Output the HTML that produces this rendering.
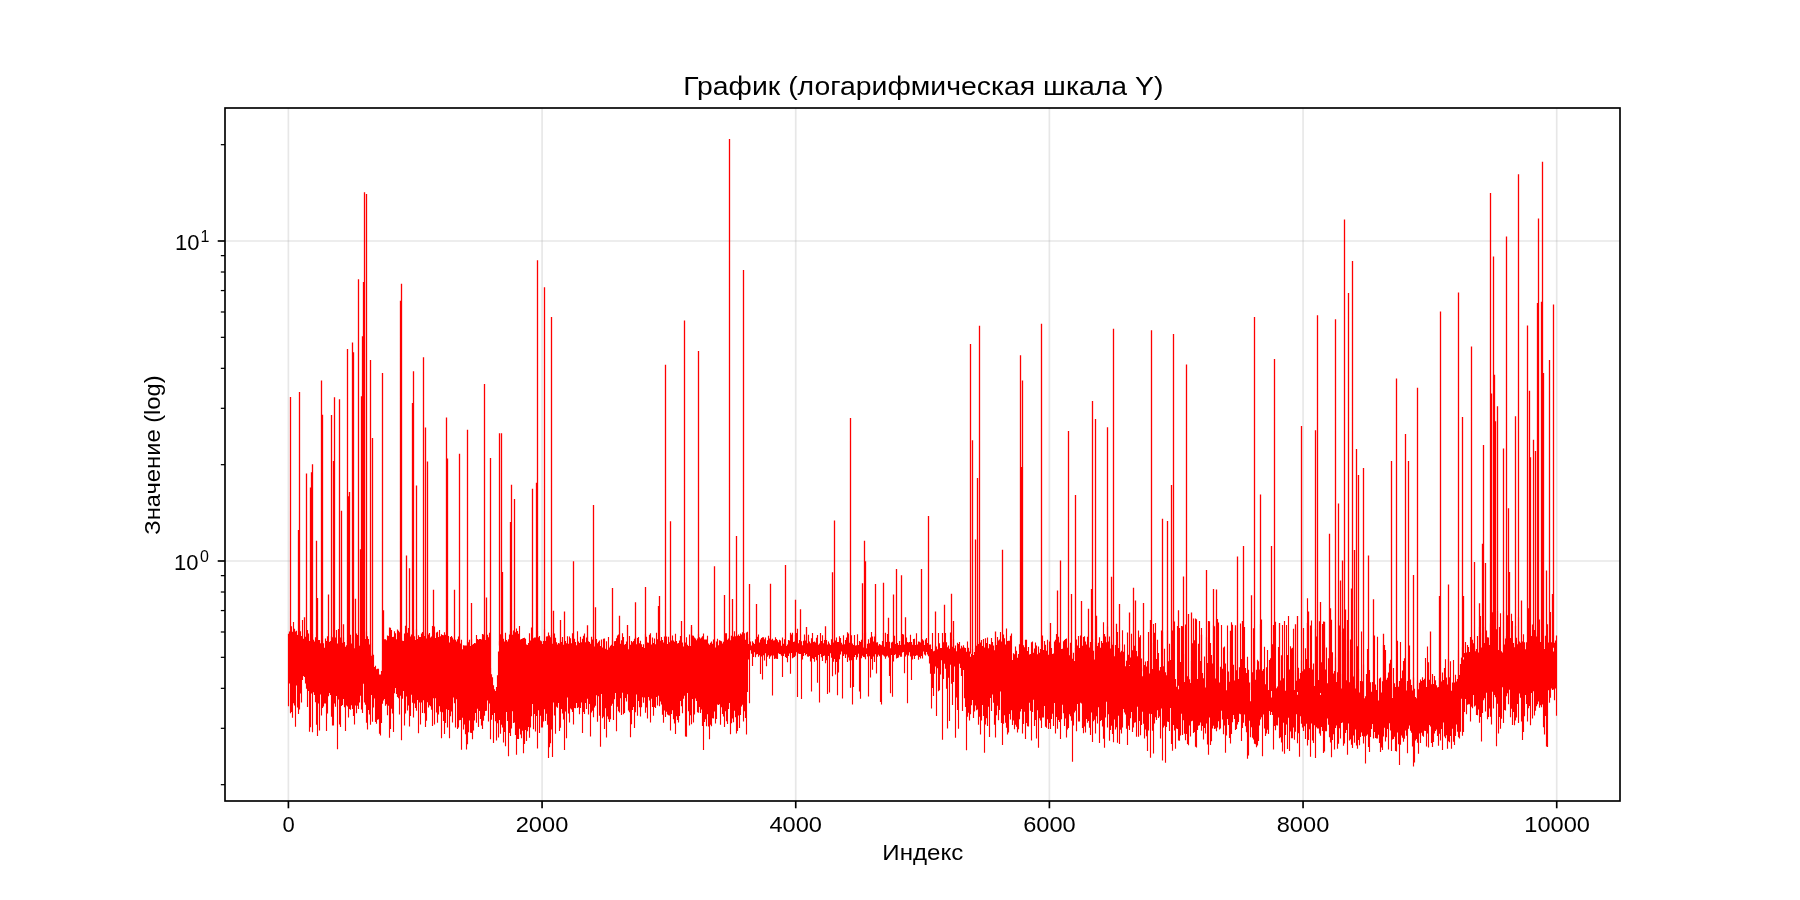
<!DOCTYPE html>
<html><head><meta charset="utf-8"><style>
html,body{margin:0;padding:0;background:#fff;}
svg{display:block;will-change:transform;}
text{font-family:"Liberation Sans",sans-serif;fill:#000;}
</style></head><body>
<svg width="1800" height="900" viewBox="0 0 1800 900">
<rect width="1800" height="900" fill="#fff"/>
<line x1="288.41" y1="108" x2="288.41" y2="801" stroke="#b0b0b0" stroke-opacity="0.3" stroke-width="1.67"/>
<line x1="542.07" y1="108" x2="542.07" y2="801" stroke="#b0b0b0" stroke-opacity="0.3" stroke-width="1.67"/>
<line x1="795.73" y1="108" x2="795.73" y2="801" stroke="#b0b0b0" stroke-opacity="0.3" stroke-width="1.67"/>
<line x1="1049.39" y1="108" x2="1049.39" y2="801" stroke="#b0b0b0" stroke-opacity="0.3" stroke-width="1.67"/>
<line x1="1303.06" y1="108" x2="1303.06" y2="801" stroke="#b0b0b0" stroke-opacity="0.3" stroke-width="1.67"/>
<line x1="1556.72" y1="108" x2="1556.72" y2="801" stroke="#b0b0b0" stroke-opacity="0.3" stroke-width="1.67"/>
<line x1="225" y1="561.00" x2="1620" y2="561.00" stroke="#b0b0b0" stroke-opacity="0.3" stroke-width="1.67"/>
<line x1="225" y1="241.00" x2="1620" y2="241.00" stroke="#b0b0b0" stroke-opacity="0.3" stroke-width="1.67"/>
<path d="M288.5 633.8V706.2M289.5 631.4V683.4M290.5 631.1V713.3M291.5 626.2V712.1M292.5 631.8V717.8M293.5 622.0V703.2M294.5 628.8V705.5M295.5 631.5V726.7M296.5 630.7V685.5M297.5 635.0V707.6M298.5 634.1V713.9M299.5 625.6V709.6M300.5 631.2V693.5M301.5 635.9V702.4M302.5 620.0V680.1M303.5 638.7V675.9M304.5 639.1V676.9M305.5 636.8V683.6M306.5 640.1V688.8M307.5 629.9V707.0M308.5 633.4V691.0M309.5 641.1V731.8M310.5 640.6V727.2M311.5 633.9V693.4M312.5 633.7V732.3M313.5 639.7V692.2M314.5 641.6V694.9M315.5 637.3V702.2M316.5 638.6V724.8M317.5 643.3V736.1M318.5 640.0V703.5M319.5 640.1V730.5M320.5 643.2V694.6M321.5 644.6V715.4M322.5 636.0V707.9M323.5 643.2V706.4M324.5 647.8V703.5M325.5 638.4V703.5M326.5 640.9V731.1M327.5 636.3V713.4M328.5 641.0V696.3M329.5 642.0V693.1M330.5 641.1V695.1M331.5 636.0V716.8M332.5 637.3V725.5M333.5 641.9V725.6M334.5 641.6V703.4M335.5 637.6V706.7M336.5 629.9V696.0M337.5 643.4V749.3M338.5 629.0V699.6M339.5 641.5V724.6M340.5 637.5V727.1M341.5 640.5V706.0M342.5 642.8V705.1M343.5 637.4V699.1M344.5 642.1V707.3M345.5 646.7V731.0M346.5 645.2V705.6M347.5 639.7V706.4M348.5 641.1V717.6M349.5 643.5V709.1M350.5 634.8V709.7M351.5 643.5V705.2M352.5 637.8V708.9M353.5 645.5V716.0M354.5 648.2V724.5M355.5 639.9V705.5M356.5 633.6V713.3M357.5 635.0V705.7M358.5 642.7V709.0M359.5 645.7V702.6M360.5 645.3V695.8M361.5 642.9V709.4M362.5 640.5V713.0M363.5 643.0V683.8M364.5 641.4V702.6M365.5 639.0V704.7M366.5 631.6V722.8M367.5 636.2V729.4M368.5 639.1V709.9M369.5 644.4V714.5M370.5 643.5V724.8M371.5 655.8V694.9M372.5 653.4V721.8M373.5 654.7V707.4M374.5 667.0V698.4M375.5 665.8V721.9M376.5 669.2V723.7M377.5 668.8V719.8M378.5 668.8V719.2M379.5 674.4V733.8M380.5 674.5V735.5M381.5 671.1V722.9M382.5 659.8V703.7M383.5 648.5V700.6M384.5 639.3V699.1M385.5 639.2V705.8M386.5 640.2V704.2M387.5 635.6V715.2M388.5 635.9V705.7M389.5 627.4V737.7M390.5 627.8V729.0M391.5 629.9V708.8M392.5 636.9V713.4M393.5 636.8V731.9M394.5 631.3V693.3M395.5 633.2V688.0M396.5 639.3V694.1M397.5 629.4V696.9M398.5 630.8V698.3M399.5 632.2V714.4M400.5 638.7V695.8M401.5 638.2V740.2M402.5 640.7V698.7M403.5 641.0V691.0M404.5 633.5V725.6M405.5 625.8V713.4M406.5 627.5V696.4M407.5 632.8V710.5M408.5 628.1V705.5M409.5 636.6V726.4M410.5 636.5V716.1M411.5 634.6V694.8M412.5 640.9V702.8M413.5 630.3V717.4M414.5 636.3V703.5M415.5 640.0V707.9M416.5 629.3V710.8M417.5 639.0V699.9M418.5 635.3V733.3M419.5 637.0V702.6M420.5 636.9V724.4M421.5 633.4V702.5M422.5 632.1V712.9M423.5 633.7V700.2M424.5 636.0V713.3M425.5 630.3V727.0M426.5 638.4V720.8M427.5 632.9V702.2M428.5 634.5V707.4M429.5 632.9V705.2M430.5 637.6V706.3M431.5 636.6V709.8M432.5 626.0V726.1M433.5 632.8V698.2M434.5 626.5V724.5M435.5 638.0V698.3M436.5 632.5V712.5M437.5 631.7V722.8M438.5 637.1V714.4M439.5 629.9V706.2M440.5 636.3V711.8M441.5 634.3V738.2M442.5 635.0V712.3M443.5 635.3V721.0M444.5 632.3V733.9M445.5 634.7V723.1M446.5 636.7V709.3M447.5 635.2V727.4M448.5 636.0V710.1M449.5 642.5V738.2M450.5 637.0V716.2M451.5 635.9V711.6M452.5 637.6V722.6M453.5 639.4V697.4M454.5 639.3V703.2M455.5 639.8V727.4M456.5 641.6V699.2M457.5 639.3V729.0M458.5 636.4V727.6M459.5 639.4V720.3M460.5 643.6V720.0M461.5 639.8V749.8M462.5 649.3V717.8M463.5 645.3V729.6M464.5 645.5V724.5M465.5 645.6V734.2M466.5 645.4V749.6M467.5 641.6V744.2M468.5 642.2V732.2M469.5 639.7V720.4M470.5 646.0V732.8M471.5 638.7V733.1M472.5 644.7V739.2M473.5 644.1V730.6M474.5 643.1V720.5M475.5 643.3V713.0M476.5 635.0V722.8M477.5 638.9V708.8M478.5 639.7V727.0M479.5 638.9V710.9M480.5 639.1V719.1M481.5 639.6V725.6M482.5 633.9V729.0M483.5 634.4V720.7M484.5 635.5V715.7M485.5 640.1V710.9M486.5 643.0V710.8M487.5 634.8V700.6M488.5 637.3V721.6M489.5 632.8V703.4M490.5 668.1V739.2M491.5 674.2V719.7M492.5 677.3V715.0M493.5 685.3V742.9M494.5 689.2V713.0M495.5 691.0V721.2M496.5 687.0V740.5M497.5 675.2V723.3M498.5 651.6V737.6M499.5 641.3V720.0M500.5 634.3V733.8M501.5 641.1V724.7M502.5 635.3V727.5M503.5 638.8V742.4M504.5 641.6V732.1M505.5 632.7V746.2M506.5 639.9V712.1M507.5 641.5V720.9M508.5 639.2V756.2M509.5 634.5V733.1M510.5 630.9V736.0M511.5 631.2V728.4M512.5 634.8V711.3M513.5 630.6V723.1M514.5 634.2V722.6M515.5 632.2V735.0M516.5 628.5V754.7M517.5 631.1V739.0M518.5 633.7V739.1M519.5 626.1V728.8M520.5 639.4V734.4M521.5 639.1V738.3M522.5 638.6V730.7M523.5 638.1V753.3M524.5 637.7V743.9M525.5 638.7V730.0M526.5 644.4V741.1M527.5 645.0V731.3M528.5 642.9V727.0M529.5 633.3V737.7M530.5 640.6V727.4M531.5 627.4V716.3M532.5 644.8V703.9M533.5 638.2V729.2M534.5 637.5V713.9M535.5 637.6V731.4M536.5 639.9V716.0M537.5 630.8V748.5M538.5 637.3V710.2M539.5 636.1V733.1M540.5 640.6V715.8M541.5 641.2V727.5M542.5 644.0V727.6M543.5 640.9V721.5M544.5 629.6V709.2M545.5 641.0V720.9M546.5 636.6V713.8M547.5 636.3V724.8M548.5 632.5V758.1M549.5 635.6V747.2M550.5 637.3V743.2M551.5 634.8V729.6M552.5 643.8V756.9M553.5 633.3V702.4M554.5 633.4V715.4M555.5 637.8V733.8M556.5 642.2V706.8M557.5 644.4V707.8M558.5 643.1V702.9M559.5 643.5V731.1M560.5 640.2V727.8M561.5 641.9V709.0M562.5 637.0V713.4M563.5 644.8V719.5M564.5 642.2V750.1M565.5 640.9V711.5M566.5 643.3V738.3M567.5 636.3V697.5M568.5 643.8V713.4M569.5 636.4V722.4M570.5 638.2V708.5M571.5 643.2V709.6M572.5 633.2V712.1M573.5 641.2V724.5M574.5 638.7V708.0M575.5 641.9V708.3M576.5 645.2V703.0M577.5 631.2V707.9M578.5 641.6V707.2M579.5 643.1V714.3M580.5 636.7V708.1M581.5 642.2V702.6M582.5 638.8V733.1M583.5 635.7V712.0M584.5 633.6V713.9M585.5 642.3V703.1M586.5 637.4V709.1M587.5 636.6V698.7M588.5 641.3V714.6M589.5 641.9V703.9M590.5 643.8V736.4M591.5 636.7V712.5M592.5 639.4V710.8M593.5 636.7V717.3M594.5 646.5V707.4M595.5 644.6V705.7M596.5 639.0V695.2M597.5 643.3V721.8M598.5 641.7V696.3M599.5 640.4V715.8M600.5 646.0V746.8M601.5 639.6V694.0M602.5 647.5V718.2M603.5 638.8V716.8M604.5 638.6V728.9M605.5 648.7V708.3M606.5 641.3V737.4M607.5 649.7V716.6M608.5 637.0V719.2M609.5 647.5V722.1M610.5 645.7V719.2M611.5 644.8V705.7M612.5 640.0V703.7M613.5 646.1V719.9M614.5 641.2V699.3M615.5 641.1V692.9M616.5 638.2V731.2M617.5 635.4V706.7M618.5 634.4V711.3M619.5 644.8V712.6M620.5 643.8V698.3M621.5 640.3V714.9M622.5 633.2V692.8M623.5 637.1V714.2M624.5 644.7V712.9M625.5 644.1V697.9M626.5 641.5V701.5M627.5 647.5V694.2M628.5 649.3V710.6M629.5 636.1V712.3M630.5 644.7V737.3M631.5 640.9V724.3M632.5 642.2V710.1M633.5 640.9V707.1M634.5 638.8V728.0M635.5 637.1V712.3M636.5 644.3V694.6M637.5 637.9V715.8M638.5 636.9V701.1M639.5 643.2V707.2M640.5 640.8V716.5M641.5 644.2V707.3M642.5 647.1V697.2M643.5 644.2V702.7M644.5 648.0V697.6M645.5 633.8V712.8M646.5 636.7V707.5M647.5 642.5V718.6M648.5 642.8V697.0M649.5 634.8V700.5M650.5 633.2V722.4M651.5 644.5V698.8M652.5 637.5V706.9M653.5 642.9V715.7M654.5 638.4V707.1M655.5 644.3V708.0M656.5 632.8V697.1M657.5 639.3V705.5M658.5 641.4V695.7M659.5 636.1V706.2M660.5 640.8V701.4M661.5 637.0V704.5M662.5 640.0V714.8M663.5 642.6V722.7M664.5 636.6V710.4M665.5 639.7V716.9M666.5 636.5V711.8M667.5 643.9V714.4M668.5 636.7V715.2M669.5 642.2V715.6M670.5 643.5V730.4M671.5 640.5V713.9M672.5 635.5V710.2M673.5 640.6V719.3M674.5 641.7V723.4M675.5 633.7V734.0M676.5 641.0V716.2M677.5 643.6V720.1M678.5 642.9V722.4M679.5 640.5V716.1M680.5 636.1V701.0M681.5 643.1V706.2M682.5 642.6V713.2M683.5 646.6V698.8M684.5 646.7V695.8M685.5 642.4V736.6M686.5 637.3V736.8M687.5 644.8V693.0M688.5 646.0V711.3M689.5 634.5V725.6M690.5 646.1V715.3M691.5 627.0V724.3M692.5 635.5V698.9M693.5 635.8V722.5M694.5 637.6V714.4M695.5 638.6V698.4M696.5 640.2V701.0M697.5 638.6V712.3M698.5 634.1V712.8M699.5 637.2V707.0M700.5 638.6V713.0M701.5 637.4V709.5M702.5 636.2V726.1M703.5 633.5V750.0M704.5 639.5V722.0M705.5 639.6V719.3M706.5 639.6V726.2M707.5 635.8V714.2M708.5 643.4V726.5M709.5 644.7V739.2M710.5 642.8V724.8M711.5 641.4V726.3M712.5 643.8V718.2M713.5 639.4V718.4M714.5 641.1V711.6M715.5 647.6V723.4M716.5 641.4V718.9M717.5 638.8V704.4M718.5 645.2V705.0M719.5 640.3V704.3M720.5 640.7V724.8M721.5 641.3V707.3M722.5 643.5V713.9M723.5 641.7V716.6M724.5 640.9V727.1M725.5 633.2V711.3M726.5 633.3V721.3M727.5 639.7V723.9M728.5 638.5V708.9M729.5 635.6V703.0M730.5 640.3V734.2M731.5 635.7V723.2M732.5 636.4V718.5M733.5 636.6V722.2M734.5 631.2V710.7M735.5 636.2V717.3M736.5 641.2V733.4M737.5 635.8V731.0M738.5 634.5V715.5M739.5 636.1V727.9M740.5 633.6V714.9M741.5 634.5V706.4M742.5 632.3V704.8M743.5 633.3V721.4M744.5 633.3V711.2M745.5 639.7V718.1M746.5 632.5V734.5M747.5 631.7V691.9M748.5 643.9V659.4M749.5 637.8V703.2M750.5 641.6V650.3M751.5 645.6V653.7M752.5 641.2V665.9M753.5 642.7V656.9M754.5 643.9V652.3M755.5 639.2V657.3M756.5 642.1V654.6M757.5 636.8V653.9M758.5 634.6V656.7M759.5 642.6V655.2M760.5 639.6V674.1M761.5 638.0V656.5M762.5 637.2V679.5M763.5 637.3V655.3M764.5 639.3V660.6M765.5 637.4V653.2M766.5 644.0V666.3M767.5 640.3V656.7M768.5 635.8V655.2M769.5 638.4V658.7M770.5 644.4V656.4M771.5 639.8V655.5M772.5 638.8V695.4M773.5 640.4V655.6M774.5 640.2V659.1M775.5 637.3V658.6M776.5 639.1V658.8M777.5 640.3V658.9M778.5 642.2V653.2M779.5 639.7V653.9M780.5 640.6V654.2M781.5 645.7V655.7M782.5 637.5V676.9M783.5 643.8V655.9M784.5 639.3V653.8M785.5 643.5V656.9M786.5 645.9V658.1M787.5 644.6V662.2M788.5 639.9V656.1M789.5 640.6V653.5M790.5 632.8V673.8M791.5 634.5V652.9M792.5 632.8V658.2M793.5 642.0V657.6M794.5 641.4V656.9M795.5 635.1V655.7M796.5 632.9V652.3M797.5 628.7V697.1M798.5 643.3V653.6M799.5 640.1V654.1M800.5 641.1V653.9M801.5 641.2V698.9M802.5 645.2V659.4M803.5 640.7V656.1M804.5 634.6V652.9M805.5 640.5V655.2M806.5 636.6V654.1M807.5 643.2V656.5M808.5 634.7V656.7M809.5 641.6V655.9M810.5 643.3V661.4M811.5 638.3V691.4M812.5 633.0V658.2M813.5 642.0V659.0M814.5 641.4V661.7M815.5 642.6V656.9M816.5 637.8V660.2M817.5 635.1V682.7M818.5 644.7V655.0M819.5 643.5V702.6M820.5 633.1V654.1M821.5 640.9V657.3M822.5 635.2V661.1M823.5 643.2V656.1M824.5 640.0V655.5M825.5 638.1V663.2M826.5 640.0V660.2M827.5 644.5V694.1M828.5 641.6V656.1M829.5 643.4V692.6M830.5 645.0V653.2M831.5 639.2V657.8M832.5 639.2V676.2M833.5 642.6V661.8M834.5 645.0V659.1M835.5 640.5V674.6M836.5 637.4V661.9M837.5 642.0V695.3M838.5 642.1V672.4M839.5 636.2V659.3M840.5 637.9V654.6M841.5 642.8V651.4M842.5 644.6V698.6M843.5 635.3V656.0M844.5 644.2V654.3M845.5 640.0V658.0M846.5 637.6V654.6M847.5 632.2V661.9M848.5 633.6V657.4M849.5 642.8V660.5M850.5 641.2V687.8M851.5 635.2V660.3M852.5 643.4V704.4M853.5 645.0V687.1M854.5 634.9V656.9M855.5 645.5V654.9M856.5 645.2V659.7M857.5 634.3V657.2M858.5 645.0V653.8M859.5 641.0V691.4M860.5 642.0V698.8M861.5 639.7V658.3M862.5 644.5V655.7M863.5 647.5V657.0M864.5 632.9V657.3M865.5 632.6V659.3M866.5 648.3V653.9M867.5 643.7V656.4M868.5 639.2V696.6M869.5 643.3V656.3M870.5 637.5V677.4M871.5 632.1V659.1M872.5 636.5V669.8M873.5 641.4V656.5M874.5 636.5V662.1M875.5 633.7V654.2M876.5 642.4V673.4M877.5 642.3V656.8M878.5 645.5V654.8M879.5 644.0V656.3M880.5 644.8V702.0M881.5 645.2V704.6M882.5 641.0V654.8M883.5 633.1V655.6M884.5 646.8V656.6M885.5 632.8V658.8M886.5 642.0V656.4M887.5 634.0V655.8M888.5 642.2V657.5M889.5 641.8V675.9M890.5 648.3V693.2M891.5 642.5V655.1M892.5 641.7V696.8M893.5 645.9V661.5M894.5 635.8V655.0M895.5 644.1V654.3M896.5 642.8V658.5M897.5 642.9V657.9M898.5 644.9V657.6M899.5 641.1V655.2M900.5 645.1V656.8M901.5 640.8V656.7M902.5 634.0V652.6M903.5 634.4V652.1M904.5 644.6V673.2M905.5 644.8V656.5M906.5 637.6V654.7M907.5 642.1V703.3M908.5 642.5V655.4M909.5 641.9V652.3M910.5 634.8V656.5M911.5 641.9V680.0M912.5 644.8V659.6M913.5 639.0V655.8M914.5 638.8V659.1M915.5 645.1V656.1M916.5 633.3V655.3M917.5 644.5V655.6M918.5 641.5V659.7M919.5 641.8V657.1M920.5 642.6V658.6M921.5 644.9V656.1M922.5 639.2V658.5M923.5 640.4V651.6M924.5 645.1V654.6M925.5 639.4V655.5M926.5 638.0V651.9M927.5 643.1V654.4M928.5 643.8V656.2M929.5 644.8V663.4M930.5 644.4V673.7M931.5 648.9V708.4M932.5 632.9V687.9M933.5 651.3V696.0M934.5 650.8V673.7M935.5 645.4V666.5M936.5 646.5V716.0M937.5 649.3V668.3M938.5 633.0V691.3M939.5 643.2V690.3M940.5 647.9V674.5M941.5 648.1V660.2M942.5 633.1V739.8M943.5 642.3V678.9M944.5 641.2V663.7M945.5 632.9V668.8M946.5 642.3V688.7M947.5 647.3V728.6M948.5 645.4V677.8M949.5 648.7V721.0M950.5 632.4V664.8M951.5 647.9V683.8M952.5 646.7V704.9M953.5 638.8V682.1M954.5 648.2V666.6M955.5 645.6V737.8M956.5 651.3V697.6M957.5 642.8V709.9M958.5 644.0V728.8M959.5 642.0V663.8M960.5 648.6V668.1M961.5 645.7V675.9M962.5 647.4V711.1M963.5 645.2V670.1M964.5 647.6V698.2M965.5 648.0V706.9M966.5 651.7V750.2M967.5 641.6V716.7M968.5 647.8V712.7M969.5 651.5V720.4M970.5 656.8V714.2M971.5 654.0V705.3M972.5 649.1V699.9M973.5 654.9V718.0M974.5 652.0V711.4M975.5 647.9V705.4M976.5 645.7V710.3M977.5 642.6V709.6M978.5 644.0V724.7M979.5 645.0V716.7M980.5 642.4V734.5M981.5 639.9V720.4M982.5 646.0V705.0M983.5 639.1V715.9M984.5 647.6V752.7M985.5 638.2V724.6M986.5 642.9V718.2M987.5 637.6V725.9M988.5 648.3V706.7M989.5 644.1V737.0M990.5 644.6V697.9M991.5 637.9V711.1M992.5 642.0V694.6M993.5 645.6V702.7M994.5 650.3V724.7M995.5 641.8V737.4M996.5 645.0V715.3M997.5 637.0V705.8M998.5 640.6V720.3M999.5 639.5V709.9M1000.5 631.9V691.6M1001.5 641.6V722.9M1002.5 648.9V745.0M1003.5 634.6V723.8M1004.5 638.3V715.2M1005.5 644.5V722.7M1006.5 628.5V727.8M1007.5 641.1V734.4M1008.5 640.7V732.4M1009.5 640.7V714.0M1010.5 635.8V719.5M1011.5 633.4V710.3M1012.5 660.0V725.0M1013.5 653.3V720.4M1014.5 654.3V729.2M1015.5 646.6V724.7M1016.5 650.7V726.8M1017.5 657.8V732.6M1018.5 654.0V729.3M1019.5 644.2V719.3M1020.5 643.4V711.5M1021.5 645.4V708.9M1022.5 648.5V733.4M1023.5 645.3V723.9M1024.5 647.2V711.7M1025.5 639.8V738.9M1026.5 639.7V723.1M1027.5 651.1V726.2M1028.5 646.9V726.6M1029.5 654.4V702.8M1030.5 654.1V710.8M1031.5 642.3V740.6M1032.5 641.6V711.9M1033.5 652.8V699.7M1034.5 648.6V725.9M1035.5 642.6V720.1M1036.5 645.6V738.6M1037.5 654.3V710.2M1038.5 646.6V747.8M1039.5 652.7V718.3M1040.5 649.1V720.5M1041.5 652.1V728.0M1042.5 635.4V717.5M1043.5 650.1V717.5M1044.5 640.9V705.9M1045.5 644.8V726.8M1046.5 650.8V727.8M1047.5 639.7V719.3M1048.5 654.8V728.9M1049.5 641.4V722.9M1050.5 644.3V729.1M1051.5 648.0V719.1M1052.5 654.0V713.7M1053.5 653.4V726.1M1054.5 641.4V703.0M1055.5 639.7V733.5M1056.5 634.0V716.9M1057.5 639.6V728.7M1058.5 636.7V720.1M1059.5 642.4V722.1M1060.5 649.5V738.9M1061.5 648.9V719.2M1062.5 648.7V704.8M1063.5 641.3V713.2M1064.5 640.1V726.1M1065.5 639.0V718.5M1066.5 638.4V737.6M1067.5 647.8V729.6M1068.5 646.4V727.9M1069.5 655.2V714.3M1070.5 642.7V716.2M1071.5 650.4V720.8M1072.5 658.8V761.8M1073.5 652.7V725.5M1074.5 661.1V712.6M1075.5 647.7V710.7M1076.5 639.6V731.3M1077.5 645.6V704.1M1078.5 635.9V721.5M1079.5 648.0V721.4M1080.5 635.5V702.7M1081.5 654.9V703.6M1082.5 645.7V728.1M1083.5 637.1V733.3M1084.5 636.2V726.6M1085.5 641.4V732.5M1086.5 644.5V719.1M1087.5 636.8V722.7M1088.5 646.3V721.0M1089.5 647.4V727.7M1090.5 641.9V734.9M1091.5 642.6V712.4M1092.5 639.0V742.1M1093.5 650.8V721.2M1094.5 659.6V719.7M1095.5 641.9V733.5M1096.5 642.9V716.2M1097.5 645.9V723.4M1098.5 642.8V707.2M1099.5 637.3V743.1M1100.5 647.8V721.1M1101.5 640.9V719.9M1102.5 642.9V726.5M1103.5 622.2V738.8M1104.5 634.1V747.8M1105.5 636.4V717.6M1106.5 642.2V701.7M1107.5 626.6V727.6M1108.5 641.5V714.2M1109.5 636.5V740.8M1110.5 648.5V730.1M1111.5 641.7V725.8M1112.5 644.8V733.9M1113.5 654.2V742.2M1114.5 656.3V719.6M1115.5 644.9V729.4M1116.5 651.8V727.2M1117.5 631.9V742.8M1118.5 648.0V715.8M1119.5 644.0V744.0M1120.5 652.2V729.8M1121.5 650.7V733.4M1122.5 630.2V727.4M1123.5 651.7V709.1M1124.5 644.6V712.6M1125.5 666.2V714.5M1126.5 660.8V728.7M1127.5 632.5V745.1M1128.5 654.7V725.7M1129.5 666.0V730.0M1130.5 657.5V718.3M1131.5 633.8V711.9M1132.5 650.3V732.1M1133.5 657.2V727.5M1134.5 645.7V722.8M1135.5 658.0V722.3M1136.5 651.0V736.7M1137.5 656.3V706.7M1138.5 630.6V736.8M1139.5 637.3V721.0M1140.5 635.2V735.3M1141.5 658.4V725.1M1142.5 676.2V711.7M1143.5 667.7V723.8M1144.5 665.1V738.6M1145.5 661.4V729.4M1146.5 666.5V736.2M1147.5 661.0V751.1M1148.5 631.9V730.6M1149.5 673.6V713.7M1150.5 629.3V757.8M1151.5 643.1V713.9M1152.5 669.0V730.7M1153.5 623.9V753.5M1154.5 632.7V723.5M1155.5 623.1V717.2M1156.5 659.0V720.1M1157.5 639.8V710.2M1158.5 652.9V717.9M1159.5 670.6V716.4M1160.5 667.0V738.6M1161.5 630.6V708.5M1162.5 632.1V760.6M1163.5 666.2V727.6M1164.5 648.8V725.8M1165.5 672.2V762.8M1166.5 675.2V727.0M1167.5 630.2V721.5M1168.5 661.3V722.1M1169.5 643.8V730.9M1170.5 659.9V707.9M1171.5 671.1V743.9M1172.5 630.6V750.7M1173.5 620.4V725.1M1174.5 621.5V730.5M1175.5 679.0V748.8M1176.5 686.8V728.6M1177.5 626.1V729.1M1178.5 689.2V740.5M1179.5 628.1V740.7M1180.5 662.1V735.4M1181.5 626.0V713.8M1182.5 626.2V735.1M1183.5 653.9V720.2M1184.5 681.9V733.8M1185.5 624.5V740.2M1186.5 679.5V734.0M1187.5 676.2V744.0M1188.5 676.7V745.2M1189.5 679.2V725.4M1190.5 683.1V736.4M1191.5 660.9V721.2M1192.5 643.3V720.7M1193.5 618.6V733.1M1194.5 640.3V731.9M1195.5 618.6V746.7M1196.5 619.2V747.4M1197.5 678.9V730.1M1198.5 643.7V725.8M1199.5 621.0V725.3M1200.5 660.9V722.4M1201.5 628.0V730.8M1202.5 673.1V725.9M1203.5 678.2V739.4M1204.5 656.6V728.0M1205.5 687.5V733.6M1206.5 637.2V723.4M1207.5 663.0V744.6M1208.5 620.9V754.7M1209.5 621.2V717.4M1210.5 643.0V745.0M1211.5 655.0V741.3M1212.5 663.4V728.4M1213.5 625.1V725.7M1214.5 626.2V728.9M1215.5 678.4V728.4M1216.5 620.5V731.3M1217.5 618.9V727.6M1218.5 622.6V721.2M1219.5 682.4V729.6M1220.5 666.8V728.4M1221.5 625.0V710.8M1222.5 668.7V719.5M1223.5 647.6V734.3M1224.5 646.4V725.6M1225.5 663.4V752.7M1226.5 690.2V735.6M1227.5 625.6V719.0M1228.5 671.4V725.1M1229.5 681.7V738.1M1230.5 651.5V743.6M1231.5 622.3V734.0M1232.5 624.7V722.2M1233.5 664.7V715.0M1234.5 680.5V719.0M1235.5 628.3V730.0M1236.5 670.3V728.9M1237.5 679.0V724.4M1238.5 679.1V722.1M1239.5 667.3V713.7M1240.5 623.4V714.2M1241.5 659.0V741.0M1242.5 675.0V728.1M1243.5 688.7V722.7M1244.5 627.0V714.4M1245.5 667.9V726.2M1246.5 672.9V732.3M1247.5 656.8V758.7M1248.5 669.8V755.6M1249.5 682.6V720.7M1250.5 701.3V737.2M1251.5 681.7V727.2M1252.5 672.2V737.7M1253.5 628.2V739.5M1254.5 660.5V743.8M1255.5 679.8V744.3M1256.5 669.8V747.3M1257.5 659.7V745.5M1258.5 661.3V741.1M1259.5 669.6V725.4M1260.5 624.3V719.6M1261.5 619.6V717.2M1262.5 670.8V756.3M1263.5 669.0V714.6M1264.5 646.8V728.4M1265.5 684.2V736.1M1266.5 667.2V733.6M1267.5 649.9V729.7M1268.5 690.1V734.1M1269.5 659.9V710.9M1270.5 658.2V714.9M1271.5 697.5V711.9M1272.5 644.2V715.1M1273.5 625.0V749.5M1274.5 682.9V725.9M1275.5 621.7V730.3M1276.5 688.2V725.2M1277.5 686.6V725.4M1278.5 647.1V717.4M1279.5 659.8V738.3M1280.5 680.6V737.3M1281.5 655.2V742.4M1282.5 625.0V751.6M1283.5 678.2V722.7M1284.5 620.9V753.8M1285.5 690.7V735.0M1286.5 625.1V724.6M1287.5 654.9V749.1M1288.5 616.0V717.8M1289.5 669.5V751.1M1290.5 646.2V731.6M1291.5 648.4V738.2M1292.5 647.8V738.2M1293.5 628.8V727.4M1294.5 690.1V739.8M1295.5 670.2V731.8M1296.5 680.8V714.2M1297.5 694.8V743.2M1298.5 667.7V733.2M1299.5 678.8V756.7M1300.5 673.1V716.2M1301.5 660.4V723.7M1302.5 671.2V727.6M1303.5 628.0V730.9M1304.5 669.3V726.3M1305.5 648.2V739.0M1306.5 659.1V723.8M1307.5 598.3V745.5M1308.5 663.8V740.0M1309.5 667.9V729.2M1310.5 625.4V756.7M1311.5 620.6V723.5M1312.5 669.4V740.5M1313.5 663.5V743.1M1314.5 686.0V725.3M1315.5 628.9V758.1M1316.5 636.6V727.3M1317.5 620.3V728.4M1318.5 680.0V728.4M1319.5 621.3V733.5M1320.5 695.1V735.7M1321.5 662.3V726.9M1322.5 624.0V731.0M1323.5 621.5V753.0M1324.5 644.9V751.5M1325.5 669.5V731.2M1326.5 647.4V731.2M1327.5 683.2V718.6M1328.5 658.2V724.8M1329.5 693.0V737.3M1330.5 669.2V742.6M1331.5 619.7V757.3M1332.5 652.2V740.1M1333.5 673.5V734.2M1334.5 671.1V749.6M1335.5 657.6V727.9M1336.5 682.0V725.6M1337.5 672.2V748.7M1338.5 620.2V743.8M1339.5 625.6V728.2M1340.5 631.8V738.4M1341.5 688.5V723.1M1342.5 674.0V722.4M1343.5 628.5V745.7M1344.5 636.0V743.5M1345.5 639.5V733.1M1346.5 680.3V729.9M1347.5 682.7V754.7M1348.5 650.7V723.5M1349.5 682.3V740.6M1350.5 639.4V739.2M1351.5 644.9V744.8M1352.5 675.5V748.0M1353.5 676.5V735.4M1354.5 695.7V742.7M1355.5 688.5V729.5M1356.5 685.2V745.6M1357.5 646.2V748.7M1358.5 668.8V740.0M1359.5 692.5V745.2M1360.5 681.1V736.9M1361.5 631.5V732.4M1362.5 681.2V735.9M1363.5 664.5V743.5M1364.5 698.2V736.4M1365.5 696.3V763.5M1366.5 673.9V735.8M1367.5 648.9V734.5M1368.5 689.8V747.0M1369.5 670.1V752.1M1370.5 682.3V737.0M1371.5 691.7V728.9M1372.5 682.1V723.9M1373.5 689.6V738.6M1374.5 635.5V732.0M1375.5 684.6V738.1M1376.5 690.0V738.5M1377.5 636.7V738.6M1378.5 700.5V734.8M1379.5 678.4V743.0M1380.5 677.4V752.1M1381.5 692.6V747.4M1382.5 681.3V749.9M1383.5 644.9V736.5M1384.5 644.9V727.8M1385.5 650.1V741.6M1386.5 679.7V737.3M1387.5 677.7V728.9M1388.5 672.6V749.4M1389.5 663.4V723.2M1390.5 659.8V730.5M1391.5 687.4V751.0M1392.5 698.1V739.5M1393.5 668.1V739.0M1394.5 683.2V736.8M1395.5 687.1V751.1M1396.5 689.8V751.4M1397.5 640.8V732.4M1398.5 686.8V744.2M1399.5 681.0V765.0M1400.5 642.0V744.8M1401.5 678.2V735.4M1402.5 670.6V737.8M1403.5 661.0V741.8M1404.5 658.3V738.8M1405.5 683.3V730.5M1406.5 690.4V735.7M1407.5 681.0V753.2M1408.5 695.9V728.7M1409.5 645.6V725.6M1410.5 679.4V730.7M1411.5 685.1V732.8M1412.5 690.6V746.6M1413.5 677.4V766.5M1414.5 688.8V762.4M1415.5 697.1V740.5M1416.5 698.2V739.1M1417.5 680.6V742.7M1418.5 689.2V753.8M1419.5 682.8V733.4M1420.5 679.6V743.0M1421.5 681.0V732.8M1422.5 677.2V735.7M1423.5 680.1V736.8M1424.5 678.7V730.8M1425.5 658.0V730.9M1426.5 687.1V746.4M1427.5 646.6V733.5M1428.5 662.3V747.6M1429.5 679.8V725.0M1430.5 688.9V726.5M1431.5 684.3V742.9M1432.5 673.9V746.9M1433.5 684.0V742.0M1434.5 675.9V733.4M1435.5 680.2V731.1M1436.5 685.3V729.5M1437.5 687.6V736.1M1438.5 687.1V745.8M1439.5 677.9V733.7M1440.5 681.0V740.5M1441.5 681.5V729.0M1442.5 672.4V750.1M1443.5 680.0V722.5M1444.5 668.1V736.6M1445.5 659.3V738.2M1446.5 677.5V735.2M1447.5 684.4V748.8M1448.5 658.8V741.3M1449.5 677.3V742.3M1450.5 661.2V736.1M1451.5 690.7V748.8M1452.5 682.4V728.7M1453.5 659.9V741.7M1454.5 682.6V745.1M1455.5 674.7V736.0M1456.5 681.4V724.4M1457.5 679.0V731.7M1458.5 650.0V737.3M1459.5 674.9V738.4M1460.5 664.1V731.7M1461.5 657.5V698.8M1462.5 647.2V735.7M1463.5 659.5V731.9M1464.5 652.9V711.9M1465.5 642.0V698.9M1466.5 652.6V714.3M1467.5 644.9V704.8M1468.5 647.0V704.2M1469.5 651.9V704.2M1470.5 637.1V721.5M1471.5 639.6V706.8M1472.5 639.8V708.2M1473.5 643.3V695.0M1474.5 645.4V706.6M1475.5 651.2V705.4M1476.5 649.0V714.9M1477.5 636.0V715.2M1478.5 652.5V709.5M1479.5 627.0V722.7M1480.5 616.0V716.9M1481.5 647.5V741.4M1482.5 632.7V712.9M1483.5 626.9V700.2M1484.5 642.9V698.3M1485.5 645.1V711.6M1486.5 630.5V692.7M1487.5 637.2V719.3M1488.5 637.4V716.9M1489.5 645.0V708.6M1490.5 623.4V716.8M1491.5 641.4V724.6M1492.5 612.2V691.8M1493.5 610.1V708.5M1494.5 645.9V695.0M1495.5 644.5V697.2M1496.5 629.2V746.2M1497.5 610.7V703.7M1498.5 650.1V733.6M1499.5 627.0V717.1M1500.5 613.3V728.8M1501.5 651.3V718.8M1502.5 652.6V687.2M1503.5 611.5V723.1M1504.5 644.4V710.0M1505.5 638.5V710.6M1506.5 635.7V696.2M1507.5 615.2V693.3M1508.5 651.1V704.2M1509.5 640.9V689.7M1510.5 638.1V717.3M1511.5 613.7V708.8M1512.5 620.9V725.0M1513.5 642.9V712.0M1514.5 647.3V725.3M1515.5 625.7V720.4M1516.5 637.8V717.6M1517.5 644.3V703.9M1518.5 617.2V722.9M1519.5 641.4V693.5M1520.5 642.8V697.8M1521.5 643.5V721.6M1522.5 641.4V740.1M1523.5 634.2V732.0M1524.5 642.2V716.2M1525.5 649.2V695.0M1526.5 642.2V704.1M1527.5 645.6V721.4M1528.5 608.2V708.3M1529.5 637.5V706.0M1530.5 645.0V725.3M1531.5 635.9V693.1M1532.5 624.5V718.5M1533.5 646.9V691.2M1534.5 629.9V715.5M1535.5 633.6V710.7M1536.5 636.4V706.3M1537.5 647.9V704.3M1538.5 643.8V701.6M1539.5 619.5V707.7M1540.5 642.0V705.2M1541.5 643.9V707.3M1542.5 638.0V704.4M1543.5 646.6V727.2M1544.5 648.9V734.5M1545.5 635.8V716.1M1546.5 643.2V746.5M1547.5 624.2V747.1M1548.5 642.5V690.3M1549.5 639.3V702.7M1550.5 612.1V697.7M1551.5 642.2V688.4M1552.5 643.2V689.9M1553.5 651.4V689.4M1554.5 642.8V700.3M1555.5 640.6V688.4M1556.5 635.6V715.7" stroke="#ff0000" stroke-width="1.15" fill="none"/>
<path d="M321.5 380.4V648.7M347.5 348.9V650.1M352.5 342.4V650.2M353.5 352.3V650.2M358.5 279.3V650.3M362.5 336.2V650.4M363.5 282.1V650.4M364.5 192.3V650.4M366.5 194.0V650.5M370.5 360.0V658.0M382.5 373.0V672.5M400.5 300.8V645.8M401.5 283.8V645.7M413.5 371.3V645.2M423.5 357.2V644.9M484.5 384.0V650.4M537.5 260.3V647.5M544.5 287.2V647.5M551.5 316.9V647.6M665.5 364.8V650.5M684.5 320.6V650.5M698.5 350.9V650.5M729.5 139.1V650.5M743.5 269.9V649.1M970.5 344.1V653.8M979.5 325.7V654.3M1020.5 355.2V656.6M1022.5 380.4V656.7M1041.5 323.7V658.6M1113.5 328.8V661.1M1151.5 330.2V679.8M1173.5 333.9V684.7M1186.5 364.5V687.5M1254.5 316.9V690.2M1274.5 358.9V691.0M1317.5 315.2V692.8M1335.5 319.2V693.5M1344.5 219.5V694.8M1348.5 293.1V695.4M1352.5 261.1V695.9M1396.5 378.5V697.5M1440.5 311.4V696.0M1458.5 292.4V693.6M1471.5 346.5V655.5M1490.5 192.9V652.2M1493.5 256.4V652.0M1494.5 374.8V651.9M1506.5 236.5V651.1M1518.5 174.2V650.2M1527.5 325.5V649.6M1537.5 302.9V648.9M1538.5 218.4V648.8M1541.5 301.7V648.6M1542.5 161.7V648.5M1543.5 372.9V648.5M1549.5 360.1V648.0M1553.5 304.6V647.7M290.5 396.9V648.6M298.5 530.0V647.2M299.5 392.1V647.1M304.5 617.3V647.3M306.5 473.4V647.5M310.5 487.5V647.8M311.5 472.2V647.9M312.5 464.3V648.0M316.5 540.8V648.3M317.5 598.0V648.3M322.5 414.7V648.7M328.5 594.6V649.1M331.5 415.0V649.3M333.5 460.9V649.4M334.5 397.2V649.5M339.5 399.2V649.8M341.5 510.8V649.9M343.5 624.3V650.0M348.5 496.3V650.1M349.5 492.1V650.1M355.5 598.8V650.2M360.5 549.3V650.3M361.5 396.3V650.4M372.5 438.0V664.0M383.5 610.2V660.0M406.5 555.5V645.4M409.5 568.3V645.3M412.5 403.1V645.2M416.5 485.5V645.1M425.5 427.5V644.8M427.5 461.5V644.8M433.5 589.8V644.6M446.5 417.6V644.9M447.5 458.6V645.0M454.5 589.8V645.7M459.5 453.8V646.3M467.5 429.8V647.1M471.5 603.1V647.6M486.5 597.4V650.9M490.5 458.1V678.8M499.5 433.2V645.5M501.5 433.2V645.7M502.5 572.0V645.8M510.5 522.1V646.4M511.5 484.7V646.5M514.5 498.9V646.8M532.5 488.7V647.5M536.5 482.7V647.5M553.5 610.7V647.6M560.5 620.1V647.8M564.5 611.6V647.9M573.5 561.2V648.2M587.5 625.2V648.7M593.5 505.1V649.4M595.5 607.3V649.7M612.5 588.1V650.5M619.5 615.8V650.5M627.5 624.9V650.5M635.5 602.2V650.5M645.5 587.0V650.5M659.5 596.0V650.5M658.5 606.0V650.5M670.5 521.2V650.5M681.5 621.0V650.5M691.5 625.0V650.5M714.5 566.3V650.5M724.5 594.9V650.5M732.5 599.1V650.5M736.5 536.0V650.4M749.5 584.1V649.9M756.5 604.0V650.0M770.5 583.8V650.0M785.5 564.9V650.0M795.5 599.7V650.0M800.5 609.3V650.0M806.5 626.9V650.0M825.5 626.3V650.0M832.5 572.2V650.0M834.5 520.4V650.0M850.5 418.1V650.0M864.5 540.8V650.0M865.5 561.2V650.0M862.5 583.3V650.0M875.5 584.1V650.0M883.5 582.7V650.0M888.5 617.8V650.0M893.5 594.6V650.0M896.5 569.1V650.0M901.5 575.3V650.0M905.5 617.3V650.0M921.5 569.1V650.0M928.5 516.1V650.0M935.5 611.6V654.0M944.5 604.8V654.0M951.5 593.7V654.0M953.5 620.9V654.0M972.5 440.2V653.9M975.5 539.4V654.1M977.5 477.9V654.1M995.5 631.4V655.2M1002.5 549.8V655.6M1021.5 467.0V656.7M1050.5 622.9V659.5M1057.5 590.6V659.5M1060.5 560.6V659.5M1068.5 430.9V659.5M1071.5 594.0V659.5M1075.5 494.9V659.5M1081.5 601.1V659.5M1088.5 608.8V659.5M1091.5 588.9V659.5M1092.5 401.1V659.5M1095.5 419.0V659.5M1096.5 615.8V659.5M1107.5 427.2V659.9M1111.5 576.7V660.8M1116.5 623.8V662.0M1119.5 604.0V662.5M1129.5 612.4V665.2M1133.5 587.8V666.2M1135.5 600.5V666.7M1143.5 603.1V671.3M1150.5 620.1V679.6M1162.5 518.7V682.3M1167.5 521.0V683.4M1171.5 485.0V684.3M1178.5 610.2V685.8M1183.5 576.5V686.7M1188.5 613.9V687.6M1191.5 612.4V687.7M1201.5 634.8V688.1M1206.5 570.0V688.3M1213.5 588.9V688.6M1216.5 589.5V688.7M1230.5 630.8V689.3M1235.5 625.2V689.5M1237.5 556.6V689.6M1242.5 621.0V689.8M1243.5 545.9V689.8M1251.5 595.2V690.1M1260.5 494.6V690.5M1271.5 545.9V690.9M1279.5 622.9V691.2M1295.5 624.3V691.9M1297.5 616.1V692.0M1301.5 426.1V692.1M1307.5 622.9V692.4M1308.5 611.6V692.4M1315.5 430.3V692.7M1320.5 602.0V692.9M1324.5 621.8V693.0M1329.5 533.7V693.2M1330.5 608.2V693.3M1338.5 503.4V693.9M1340.5 580.4V694.2M1342.5 560.6V694.5M1345.5 609.6V694.9M1347.5 620.1V695.2M1351.5 588.4V695.8M1354.5 550.1V696.2M1356.5 449.0V696.5M1358.5 475.1V696.8M1363.5 468.0V697.4M1368.5 555.6V697.5M1373.5 599.2V697.5M1383.5 633.8V697.5M1391.5 460.9V697.5M1405.5 434.0V697.5M1408.5 460.9V697.5M1413.5 574.9V697.5M1417.5 387.8V697.5M1430.5 631.5V697.3M1439.5 596.1V696.1M1448.5 584.5V694.9M1462.5 417.0V657.4M1463.5 596.1V657.2M1474.5 562.1V654.9M1479.5 603.2V653.9M1482.5 543.7V653.2M1483.5 445.1V653.0M1485.5 563.0V652.6M1491.5 393.5V652.1M1495.5 421.3V651.8M1497.5 406.3V651.7M1503.5 448.5V651.3M1508.5 508.3V650.9M1509.5 572.0V650.8M1515.5 416.2V650.4M1521.5 600.4V650.0M1529.5 390.7V649.4M1530.5 457.3V649.4M1533.5 439.7V649.2M1535.5 451.0V649.1M1546.5 570.6V648.2M1552.5 594.1V647.8" stroke="#ff0000" stroke-width="1.3" fill="none"/>

<rect x="225" y="108" width="1395" height="693" fill="none" stroke="#000" stroke-width="1.67"/>
<line x1="288.41" y1="801" x2="288.41" y2="808.29" stroke="#000" stroke-width="1.67"/>
<line x1="542.07" y1="801" x2="542.07" y2="808.29" stroke="#000" stroke-width="1.67"/>
<line x1="795.73" y1="801" x2="795.73" y2="808.29" stroke="#000" stroke-width="1.67"/>
<line x1="1049.39" y1="801" x2="1049.39" y2="808.29" stroke="#000" stroke-width="1.67"/>
<line x1="1303.06" y1="801" x2="1303.06" y2="808.29" stroke="#000" stroke-width="1.67"/>
<line x1="1556.72" y1="801" x2="1556.72" y2="808.29" stroke="#000" stroke-width="1.67"/>
<line x1="217.71" y1="561.00" x2="225" y2="561.00" stroke="#000" stroke-width="1.67"/>
<line x1="217.71" y1="241.00" x2="225" y2="241.00" stroke="#000" stroke-width="1.67"/>
<line x1="220.83" y1="784.67" x2="225" y2="784.67" stroke="#000" stroke-width="1.25"/>
<line x1="220.83" y1="728.32" x2="225" y2="728.32" stroke="#000" stroke-width="1.25"/>
<line x1="220.83" y1="688.34" x2="225" y2="688.34" stroke="#000" stroke-width="1.25"/>
<line x1="220.83" y1="657.33" x2="225" y2="657.33" stroke="#000" stroke-width="1.25"/>
<line x1="220.83" y1="631.99" x2="225" y2="631.99" stroke="#000" stroke-width="1.25"/>
<line x1="220.83" y1="610.57" x2="225" y2="610.57" stroke="#000" stroke-width="1.25"/>
<line x1="220.83" y1="592.01" x2="225" y2="592.01" stroke="#000" stroke-width="1.25"/>
<line x1="220.83" y1="575.64" x2="225" y2="575.64" stroke="#000" stroke-width="1.25"/>
<line x1="220.83" y1="464.67" x2="225" y2="464.67" stroke="#000" stroke-width="1.25"/>
<line x1="220.83" y1="408.32" x2="225" y2="408.32" stroke="#000" stroke-width="1.25"/>
<line x1="220.83" y1="368.34" x2="225" y2="368.34" stroke="#000" stroke-width="1.25"/>
<line x1="220.83" y1="337.33" x2="225" y2="337.33" stroke="#000" stroke-width="1.25"/>
<line x1="220.83" y1="311.99" x2="225" y2="311.99" stroke="#000" stroke-width="1.25"/>
<line x1="220.83" y1="290.57" x2="225" y2="290.57" stroke="#000" stroke-width="1.25"/>
<line x1="220.83" y1="272.01" x2="225" y2="272.01" stroke="#000" stroke-width="1.25"/>
<line x1="220.83" y1="255.64" x2="225" y2="255.64" stroke="#000" stroke-width="1.25"/>
<line x1="220.83" y1="144.67" x2="225" y2="144.67" stroke="#000" stroke-width="1.25"/>
<text transform="translate(923.3,94.9) scale(1.136,1)" font-size="25" text-anchor="middle">График (логарифмическая шкала Y)</text>
<text transform="translate(922.8,859.7) scale(1.095,1)" font-size="22" text-anchor="middle">Индекс</text>
<text transform="translate(160.3,455) rotate(-90) scale(1.079,1)" font-size="22" text-anchor="middle">Значение (log)</text>
<text transform="translate(288.6,831.6) scale(1.0,1)" font-size="22" text-anchor="middle">0</text>
<text transform="translate(542.0,831.6) scale(1.074,1)" font-size="22" text-anchor="middle">2000</text>
<text transform="translate(795.7,831.6) scale(1.074,1)" font-size="22" text-anchor="middle">4000</text>
<text transform="translate(1049.4,831.6) scale(1.074,1)" font-size="22" text-anchor="middle">6000</text>
<text transform="translate(1303.0,831.6) scale(1.074,1)" font-size="22" text-anchor="middle">8000</text>
<text transform="translate(1557.1,831.6) scale(1.074,1)" font-size="22" text-anchor="middle">10000</text>
<text x="174.1" y="569.8" font-size="22">10</text><text x="200" y="561.8" font-size="16">0</text>
<text x="175" y="249.9" font-size="22">10</text><text x="200.5" y="241.9" font-size="16">1</text>

</svg></body></html>
